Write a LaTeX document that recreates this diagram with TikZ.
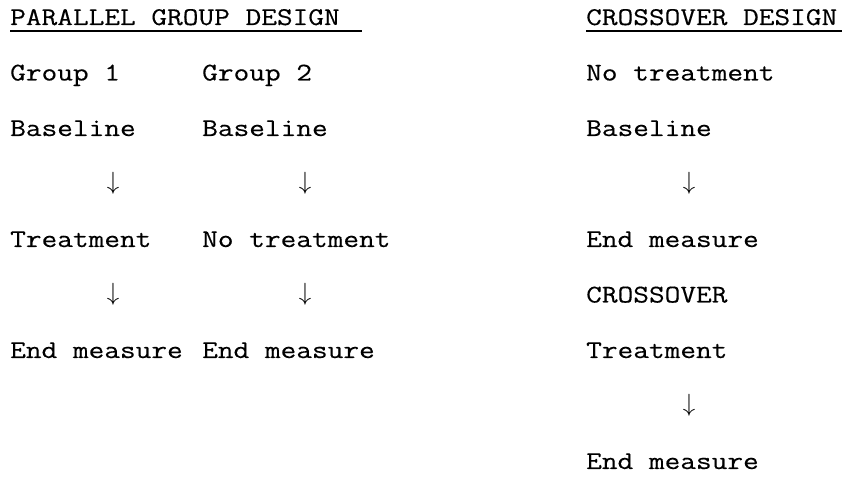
\documentclass[tikz,border=0pt]{standalone}
\usepackage{fontspec}
\setmonofont{Latin Modern Mono}[FakeStretch=1.195,FakeBold=0.3]
\newcommand{\cx}[1]{\fpeval{10+16*#1}pt}
\newcommand{\ry}[1]{\fpeval{494-(25+55.5*#1)}pt}
\newcommand{\ay}[1]{\fpeval{494-(25+55.5*#1-8)}pt}
\tikzset{
  txt/.style={font=\ttfamily\fontsize{25.5}{30}\selectfont, inner sep=0pt, anchor=base west},
  arr/.style={font=\fontsize{36}{40}\selectfont, inner sep=0pt, anchor=center},
  uline/.style={line width=1.2pt, black}
}
\begin{document}
\begin{tikzpicture}[x=1pt,y=1pt]
\useasboundingbox (0,0) rectangle (845,494);
% titles
\node[txt] (t1) at (\cx{0},\ry{0}) {PARALLEL GROUP DESIGN};
\node[txt] (t2) at (\cx{36},\ry{0}) {CROSSOVER DESIGN};
\coordinate (u1a) at ([yshift=-6pt]t1.base west);
\coordinate (u1b) at ([xshift=352pt]u1a);
\coordinate (u2a) at ([yshift=-6pt]t2.base west);
\coordinate (u2b) at ([xshift=256pt]u2a);
\draw[uline] (u1a) -- (u1b);
\draw[uline] (u2a) -- (u2b);
% row 1
\node[txt] (g1) at (\cx{0},\ry{1}) {Group 1};
\node[txt] (g2) at (\cx{12},\ry{1}) {Group 2};
\node[txt] (c1) at (\cx{36},\ry{1}) {No treatment};
% row 2
\node[txt] (g1b) at (\cx{0},\ry{2}) {Baseline};
\node[txt] (g2b) at (\cx{12},\ry{2}) {Baseline};
\node[txt] (c2) at (\cx{36},\ry{2}) {Baseline};
% row 3 arrows
\node[arr] (a1) at (\cx{6.45},\ay{3}) {$\downarrow$};
\node[arr] (a2) at (\cx{18.45},\ay{3}) {$\downarrow$};
\node[arr] (a3) at (\cx{42.45},\ay{3}) {$\downarrow$};
% row 4
\node[txt] (g1t) at (\cx{0},\ry{4}) {Treatment};
\node[txt] (g2t) at (\cx{12},\ry{4}) {No treatment};
\node[txt] (c4) at (\cx{36},\ry{4}) {End measure};
% row 5
\node[arr] (a4) at (\cx{6.45},\ay{5}) {$\downarrow$};
\node[arr] (a5) at (\cx{18.45},\ay{5}) {$\downarrow$};
\node[txt] (c5) at (\cx{36},\ry{5}) {CROSSOVER};
% row 6
\node[txt] (g1e) at (\cx{0},\ry{6}) {End measure};
\node[txt] (g2e) at (\cx{12},\ry{6}) {End measure};
\node[txt] (c6) at (\cx{36},\ry{6}) {Treatment};
% row 7
\node[arr] (a6) at (\cx{42.45},\ay{7}) {$\downarrow$};
% row 8
\node[txt] (c8) at (\cx{36},\ry{8}) {End measure};
\end{tikzpicture}
\end{document}
